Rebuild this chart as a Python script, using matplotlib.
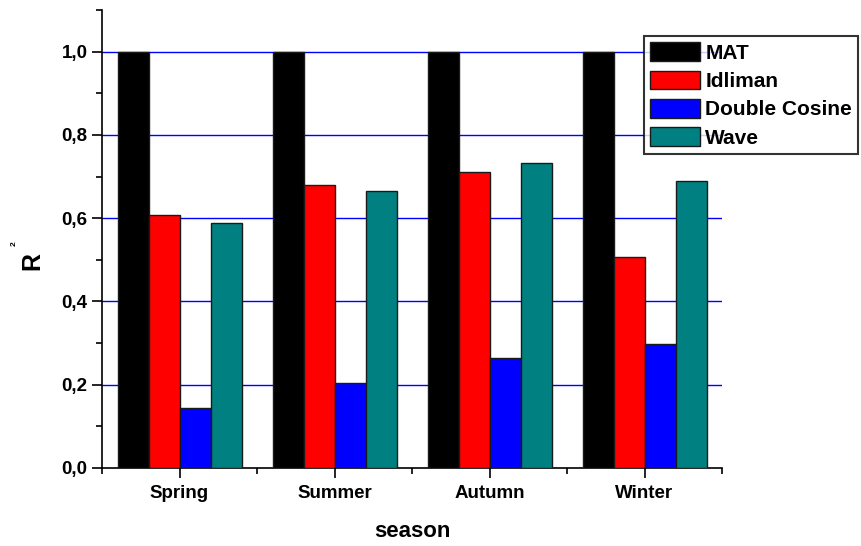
import numpy as np
import matplotlib
matplotlib.use('Agg')
import matplotlib.pyplot as plt
from matplotlib.ticker import MultipleLocator, FuncFormatter

plt.rcParams['font.family'] = ['Liberation Sans', 'DejaVu Sans']
plt.rcParams['font.weight'] = 'bold'

seasons = ['Spring', 'Summer', 'Autumn', 'Winter']
models = ['MAT', 'Idliman', 'Double Cosine', 'Wave']
mat = [1.0, 1.0, 1.0, 1.0]
idliman = [0.607, 0.679, 0.710, 0.506]
double_cosine = [0.144, 0.204, 0.264, 0.297]
wave = [0.588, 0.666, 0.732, 0.690]
colors = ['#000000', '#FF0000', '#0000FF', '#008080']

fig = plt.figure(figsize=[8.61, 5.46], dpi=100)
ax = fig.add_axes([0.1185, 0.1429, 0.7201, 0.8388])

x = np.arange(1, len(seasons) + 1)
w = 0.2
series = [mat, idliman, double_cosine, wave]
for i, vals in enumerate(series):
    ax.bar(x + (i - 1.5) * w, vals, width=w, color=colors[i], edgecolor='#1a1a1a',
           linewidth=1.0, label=models[i], zorder=3)

ax.set_xlim(0.5, 4.5)
ax.set_ylim(0, 1.1)
ax.set_xticks(x)
ax.set_xticklabels(seasons)
ax.set_xticks(np.arange(0.5, 4.6, 1.0), minor=True)
ax.yaxis.set_major_locator(MultipleLocator(0.2))
ax.yaxis.set_minor_locator(MultipleLocator(0.1))
ax.yaxis.set_major_formatter(FuncFormatter(lambda v, p: ('%.1f' % v).replace('.', ',')))

# blue grid lines behind the bars
for yv in np.arange(0.2, 1.01, 0.2):
    ax.axhline(yv, color='#0000FF', lw=1.0, zorder=1)

ax.spines['top'].set_visible(False)
ax.spines['right'].set_visible(False)
ax.spines['left'].set_linewidth(1.2)
ax.spines['bottom'].set_linewidth(1.2)
ax.tick_params(axis='both', which='major', direction='out', length=7, width=1.2, labelsize=13.5)
ax.tick_params(axis='both', which='minor', direction='out', length=4, width=1.2)
ax.tick_params(axis='x', pad=5)

ax.set_xlabel('season', fontsize=16, fontweight='bold', labelpad=14)

# y label: big R with a tiny superscript 2
fig.text(32 / 861, 1 - 261 / 546, 'R', rotation=90, fontsize=18, fontweight='bold',
         ha='center', va='center')
fig.text(14 / 861, 1 - 244 / 546, '2', rotation=90, fontsize=6, fontweight='bold',
         ha='center', va='center')

leg = ax.legend(loc='upper left', bbox_to_anchor=(644 / 861, 1 - 36 / 546), bbox_transform=fig.transFigure,
                fontsize=15, frameon=True, fancybox=False, edgecolor='black',
                handlelength=2.4, handleheight=1.0, handletextpad=0.25,
                labelspacing=0.38, borderpad=0.3, borderaxespad=0)
leg.get_frame().set_linewidth(1.5)
for t in leg.get_texts():
    t.set_fontweight('bold')

plt.savefig('out.png', dpi=100)
